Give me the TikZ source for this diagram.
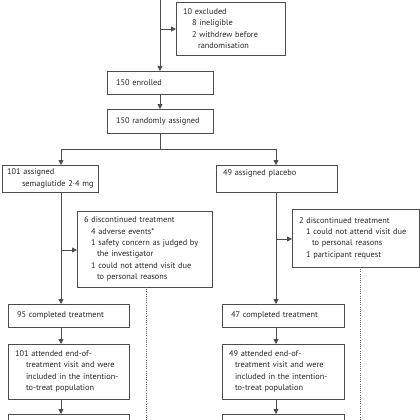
\documentclass[tikz,border=0pt]{standalone}
\usepackage{fontspec}
\setmainfont{PT Sans}
\usetikzlibrary{arrows.meta}
\begin{document}
\begin{tikzpicture}[x=1pt,y=-1pt,
  box/.style={draw=black!70, line width=0.75pt, anchor=north west, align=left,
    inner xsep=7pt, inner ysep=0pt, outer sep=0pt,
    font=\fontsize{8.3}{11.4}\selectfont, text=black!85},
  conn/.style={draw=black!70, line width=0.75pt},
  arr/.style={conn, -{Triangle[length=5pt,width=5pt]}},
  dots/.style={draw=black!60, line width=0.7pt, dash pattern=on 0.7pt off 1.5pt}]
\useasboundingbox (0,0) rectangle (420,420);
\clip (0,0) rectangle (420,420);
% boxes
\node[box, text width=95pt, minimum height=53pt] (exc) at (176,2)
  {10 excluded\\\hspace*{9pt}8 ineligible\\\hspace*{9pt}2 withdrew before\\\hspace*{15pt}randomisation};
\node[box, text width=92pt, minimum height=23pt] (enr) at (107,71) {\hspace*{2pt}150 enrolled};
\node[box, text width=92pt, minimum height=24pt] (rnd) at (107,109) {\hspace*{2pt}150 randomly assigned};
\node[box, inner xsep=5pt, text width=86pt, minimum height=27pt] (la) at (2,165)
  {101 assigned\\\hspace*{15pt}\mbox{semaglutide 2·4 mg}};
\node[box, text width=107pt, minimum height=27pt] (ra) at (216,165)
  {49 assigned placebo\\\mbox{}};
\node[box, text width=121pt, minimum height=76pt] (ld) at (77,211)
  {6 discontinued treatment\\\hspace*{7pt}4 adverse events*\\\hspace*{7pt}\mbox{1 safety concern as judged by}\\\hspace*{13pt}the investigator\\\hspace*{7pt}\mbox{1 could not attend visit due}\\\hspace*{13pt}to personal reasons};
\node[box, text width=113pt, minimum height=58pt] (rd) at (292,209)
  {2 discontinued treatment\\\hspace*{7pt}\mbox{1 could not attend visit due}\\\hspace*{13pt}to personal reasons\\\hspace*{7pt}1 participant request};
\node[box, text width=107pt, minimum height=23pt] (lc) at (8,304) {\hspace*{2pt}95 completed treatment};
\node[box, text width=108pt, minimum height=23pt] (rc) at (222,304) {\hspace*{2pt}47 completed treatment};
\node[box, text width=107pt, minimum height=55pt] (lt) at (8,344)
  {101 attended end-of-\\\hspace*{11pt}\mbox{treatment visit and were}\\\hspace*{11pt}\mbox{included in the intention-}\\\hspace*{11pt}to-treat population};
\node[box, text width=108pt, minimum height=55pt] (rt) at (222,344)
  {49 attended end-of-\\\hspace*{6pt}\mbox{treatment visit and were}\\\hspace*{6pt}\mbox{included in the intention-}\\\hspace*{6pt}to-treat population};
\node[box, text width=107pt, minimum height=30pt] (lb) at (8,414) {};
\node[box, text width=108pt, minimum height=30pt] (rb) at (222,414) {};
% coordinates
\coordinate (top) at (160,-10);
\coordinate (e1) at (160,29);
\coordinate (split) at (160,149);
\coordinate (lx) at (61,149);
\coordinate (rx) at (276,149);
\coordinate (lv) at (61,250);
\coordinate (rv) at (276,239);
\coordinate (ldd) at (146,430);
\coordinate (rdd) at (360,430);
% connectors
\draw[arr] (top) -- (enr.north);
\draw[arr] (e1) -- (e1 -| exc.west);
\draw[arr] (enr.south) -- (rnd.north);
\draw[conn] (rnd.south) -- (split);
\draw[conn] (lx) -- (rx);
\draw[arr] (lx) -- (lx |- la.north);
\draw[arr] (rx) -- (rx |- ra.north);
\draw[arr] (lx |- la.south) -- (lx |- lc.north);
\draw[arr] (rx |- ra.south) -- (rx |- rc.north);
\draw[arr] (lv) -- (lv -| ld.west);
\draw[arr] (rv) -- (rv -| rd.west);
\draw[arr] (lx |- lc.south) -- (lx |- lt.north);
\draw[arr] (rx |- rc.south) -- (rx |- rt.north);
\draw[arr] (lx |- lt.south) -- (lx |- lb.north);
\draw[arr] (rx |- rt.south) -- (rx |- rb.north);
\draw[dots] (ldd |- ld.south) -- (ldd);
\draw[dots] (rdd |- rd.south) -- (rdd);
\end{tikzpicture}
\end{document}
